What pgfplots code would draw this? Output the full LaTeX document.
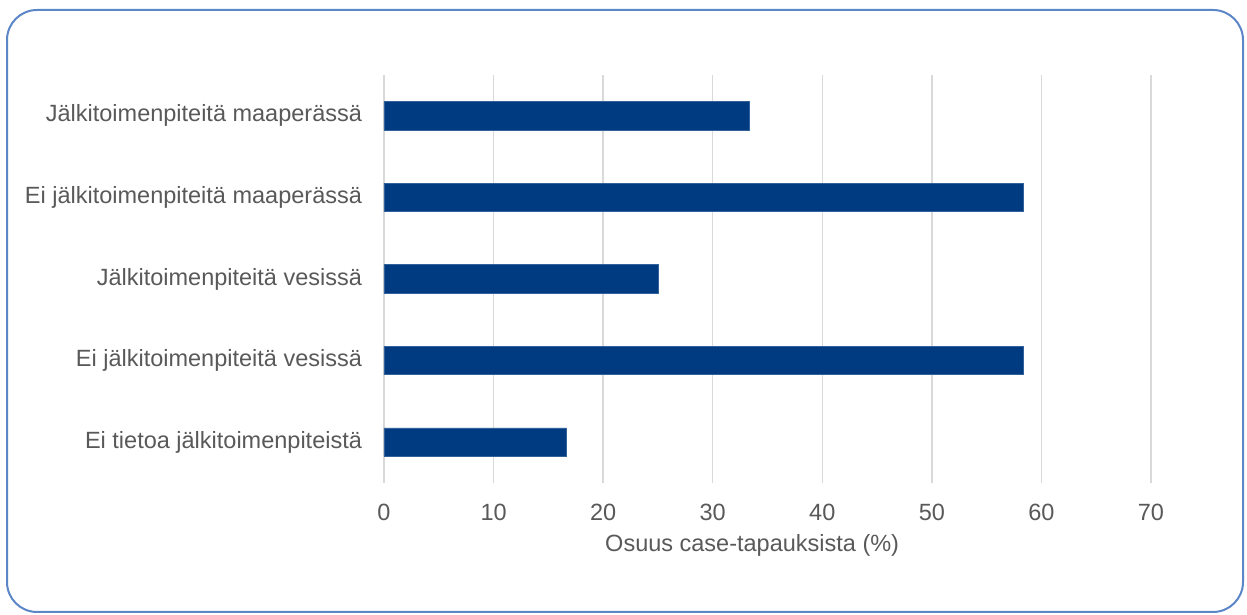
\documentclass[border=0pt]{standalone}
\usepackage{pgfplots}
\pgfplotsset{compat=1.18}
\usepackage{fontspec}
\setmainfont{Liberation Sans}
\definecolor{barblue}{HTML}{003A80}
\definecolor{framec}{HTML}{5B86C8}
\definecolor{gridc}{HTML}{D9D9D9}
\definecolor{txt}{HTML}{595959}
\begin{document}
\fontsize{23.5pt}{28pt}\selectfont
\begin{tikzpicture}[x=1pt,y=1pt]
\useasboundingbox (0,0) rectangle (1247,615);
\draw[framec, line width=2pt, rounded corners=30pt] (7,3) rectangle (1243,605);
\begin{axis}[
  at={(384pt,132pt)}, anchor=south west,
  scale only axis, width=767pt, height=408pt,
  xbar, bar width=0.35,
  xmin=0, xmax=70, ymin=0.5, ymax=5.5,
  y dir=reverse,
  xtick={0,10,...,70},
  ytick={1,2,3,4,5},
  yticklabels={Jälkitoimenpiteitä maaperässä, Ei jälkitoimenpiteitä maaperässä, Jälkitoimenpiteitä vesissä, Ei jälkitoimenpiteitä vesissä, Ei tietoa jälkitoimenpiteistä},
  axis line style={draw=none},
  major tick length=0pt,
  xmajorgrids, grid style={gridc, line width=1.5pt},
  tick label style={font=\fontsize{23.5pt}{28pt}\selectfont, text=txt},
  /pgf/number format/assume math mode=true,
  xticklabel style={yshift=-13pt},
  yticklabel style={xshift=-14pt},
  xlabel={Osuus case-tapauksista (\%)},
  xlabel style={at={(axis description cs:0.48,0)}, anchor=north, yshift=-51pt, font=\fontsize{23.5pt}{28pt}\selectfont, text=txt, inner sep=0pt},
  clip=false,
]
\addplot[fill=barblue, draw=barblue!80!white, line width=0.8pt] coordinates {
(33.33,1) (58.33,2) (25,3) (58.33,4) (16.67,5)};
\end{axis}
\end{tikzpicture}
\end{document}
